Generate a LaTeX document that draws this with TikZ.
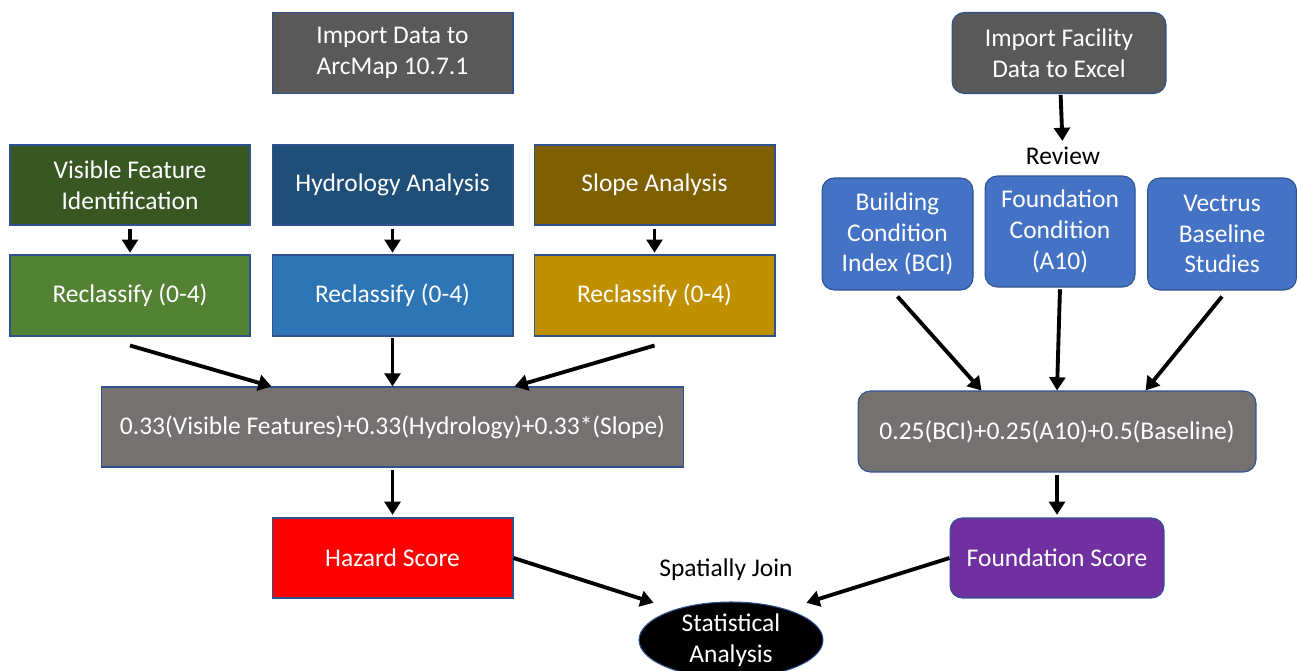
\documentclass[tikz,border=0pt]{standalone}
\usepackage{fontspec}
\setmainfont{Carlito}
\usepackage{tikz}
\usetikzlibrary{arrows.meta,shapes.geometric,calc}

\definecolor{edgeblue}{HTML}{2F528F}
\definecolor{importgray}{HTML}{595959}
\definecolor{visgreen}{HTML}{385723}
\definecolor{hydroblue}{HTML}{1F4E79}
\definecolor{slopegold}{HTML}{7F6000}
\definecolor{reclgreen}{HTML}{548235}
\definecolor{reclblue}{HTML}{2E75B6}
\definecolor{reclgold}{HTML}{BF9000}
\definecolor{formgray}{HTML}{767171}
\definecolor{condblue}{HTML}{4472C4}
\definecolor{fndpurple}{HTML}{7030A0}

\tikzset{
	>={Triangle[width=9pt,length=7.5pt]},
	flow/.style = {
			draw=edgeblue,
			line width = 0.6pt,
			fill = importgray,
			text = white,
			align = center,
			inner sep = 0pt,
			minimum width = 4.82cm,
			minimum height = 1.62cm,
			font = \fontsize{14.5}{17.6}\selectfont,
		},
	roundflow/.style = {flow, rounded corners=7pt},
	lbl/.style = {font=\fontsize{14.5}{17.6}\selectfont, text=black},
	arr/.style = {->, line width=2.2pt, black},
}

\begin{document}
\begin{tikzpicture}[x=0.02cm, y=-0.02cm]
		\useasboundingbox (0,0) rectangle (1297,671);

		\node[flow, fill=importgray] at (392.5,53) (importarc) {Import Data to\\ArcMap 10.7.1};

		\node[flow, fill=visgreen, minimum width=4.8cm, minimum height=1.6cm] at (130,185) (visible) {Visible Feature\\Identification};
		\node[flow, fill=hydroblue, minimum height=1.6cm] at (392.5,185) (hydrology) {Hydrology Analysis};
		\node[flow, fill=slopegold, minimum height=1.6cm] at (654.5,185) (slope) {Slope Analysis};

		\node[flow, fill=reclgreen, minimum width=4.8cm] at (130,295.5) (reclassvis) {Reclassify (0-4)};
		\node[flow, fill=reclblue] at (392.5,295.5) (reclasshyd) {Reclassify (0-4)};
		\node[flow, fill=reclgold] at (654.5,295.5) (reclassslp) {Reclassify (0-4)};

		\node[flow, fill=formgray, minimum width=11.66cm, minimum height=1.6cm] at (392.5,427) (formulahaz) {0.33(Visible Features)+0.33(Hydrology)+0.33*(Slope)};
		\node[flow, fill=red, minimum height=1.6cm] at (392.5,558) (hazard) {Hazard Score};

		\node[flow, ellipse, fill=black, minimum width=3.68cm, minimum height=1.52cm] at (731,640) (stat) {Statistical\\Analysis};
		\node[lbl] at (726,570) (join) {Spatially Join};

		\node[roundflow, fill=importgray, minimum width=4.28cm] at (1059,53) (importfac) {Import Facility\\Data to Excel};
		\node[lbl] at (1063,156) (review) {Review};

		\node[roundflow, fill=condblue, minimum width=3.02cm, minimum height=2.24cm] at (897.5,234) (bci) {Building\\Condition\\Index (BCI)};
		\node[roundflow, fill=condblue, minimum width=3cm, minimum height=2.22cm] at (1060,231.5) (a10) {Foundation\\Condition\\(A10)};
		\node[roundflow, fill=condblue, minimum width=2.98cm, minimum height=2.24cm] at (1222,234) (vectrus) {Vectrus\\Baseline\\Studies};

		\node[roundflow, fill=formgray, minimum width=7.96cm] at (1057,431.5) (formulafnd) {0.25(BCI)+0.25(A10)+0.5(Baseline)};
		\node[roundflow, fill=fndpurple, minimum width=4.28cm, minimum height=1.6cm] at (1057,558) (foundation) {Foundation Score};

		\draw[arr, shorten <=1.7pt, shorten >=1pt] (visible) -- (reclassvis);
		\draw[arr, shorten <=1.7pt, shorten >=1pt] (hydrology) -- (reclasshyd);
		\draw[arr, shorten <=1.7pt, shorten >=1pt] (slope) -- (reclassslp);
		\draw[arr] ($(reclassvis.south)+(0,9)$) -- ($(formulahaz.north west)+(171,0)$);
		\draw[arr, shorten <=1pt] (reclasshyd) -- (formulahaz);
		\draw[arr] ($(reclassslp.south)+(0,9)$) -- ($(formulahaz.north west)+(414,0)$);
		\draw[arr, shorten <=1.5pt, shorten >=1.5pt] (formulahaz) -- (hazard);
		\draw[arr] (hazard.east) -- ($(stat.north west)+(-12,-10)$);

		\draw[arr, shorten <=0.5pt] (importfac) -- (review);
		\draw[arr] ($(bci.south)+(0,6)$) -- ($(formulafnd.north west)+(124,0)$);
		\draw[arr, shorten <=1pt] (a10.south) -- (formulafnd.north);
		\draw[arr] ($(vectrus.south)+(0,6)$) -- ($(formulafnd.north west)+(288,0)$);
		\draw[arr, shorten <=1.5pt, shorten >=1.5pt] (formulafnd) -- (foundation);
		\draw[arr] (foundation.west) -- ($(stat.north east)+(10,-10)$);
	\end{tikzpicture}
\end{document}
